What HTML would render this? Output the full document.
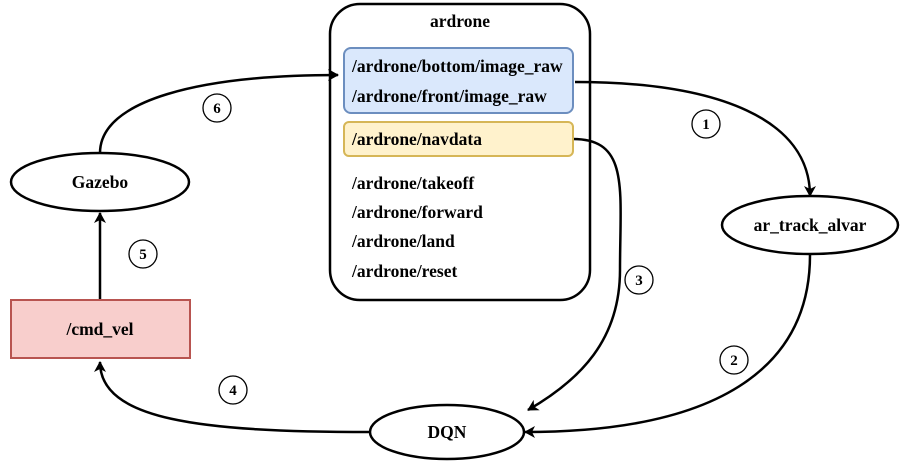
<!DOCTYPE html>
<html><head><style>
body{margin:0;background:#fff;}
svg{display:block;font-family:"Liberation Serif",serif;font-weight:bold;}
</style></head><body>
<svg width="904" height="468" viewBox="0 0 904 468" xmlns="http://www.w3.org/2000/svg">
<defs><marker id="a" markerWidth="12" markerHeight="12" refX="10" refY="6" orient="auto" markerUnits="userSpaceOnUse"><path d="M0,0 L11,6 L0,12 L3,6 Z" fill="#000"/></marker></defs>
<g fill="none" stroke="#000" stroke-width="2.5">
<rect x="330" y="4" width="260" height="296" rx="30" stroke-width="2.5"/>
<path d="M100,153 C100,100 200,75 338,75" marker-end="url(#a)"/>
<path d="M575,82 C720,82 810,120 810,196" marker-end="url(#a)"/>
<path d="M573,139 C630,139 620,190 620,270 C620,340 580,380 528,410" marker-end="url(#a)"/>
<path d="M810,255 C810,360 730,432 525,432" marker-end="url(#a)"/>
<path d="M370,432 C200,432 100,420 100,362" marker-end="url(#a)"/>
<path d="M100,300 L100,213" marker-end="url(#a)"/>
</g>
<rect x="344" y="48" width="229" height="65" rx="7" fill="#dae8fc" stroke="#6c8ebf" stroke-width="2"/>
<rect x="344" y="122" width="229" height="34" rx="5" fill="#fff2cc" stroke="#d6b656" stroke-width="2"/>
<rect x="11" y="300" width="179" height="58" fill="#f8cecc" stroke="#b85450" stroke-width="2"/>
<g fill="#fff" stroke="#000" stroke-width="2.5">
<ellipse cx="100" cy="182" rx="89" ry="29"/>
<ellipse cx="810" cy="225" rx="88" ry="29"/>
<ellipse cx="447" cy="432" rx="77" ry="27"/>
</g>
<g fill="none" stroke="#000" stroke-width="1.3">
<circle cx="706" cy="124" r="14"/><circle cx="734" cy="360" r="14"/><circle cx="639" cy="280" r="14"/>
<circle cx="233" cy="390" r="14"/><circle cx="143" cy="254" r="14"/><circle cx="217" cy="108" r="14"/>
</g>
<g font-size="17.5" fill="#000">
<text x="460" y="27" text-anchor="middle">ardrone</text>
<text x="352" y="72">/ardrone/bottom/image_raw</text>
<text x="352" y="102">/ardrone/front/image_raw</text>
<text x="352" y="145">/ardrone/navdata</text>
<text x="352" y="189">/ardrone/takeoff</text>
<text x="352" y="218">/ardrone/forward</text>
<text x="352" y="247">/ardrone/land</text>
<text x="352" y="277">/ardrone/reset</text>
<text x="100" y="188" text-anchor="middle">Gazebo</text>
<text x="810" y="231" text-anchor="middle">ar_track_alvar</text>
<text x="447" y="438" text-anchor="middle">DQN</text>
<text x="100" y="335" text-anchor="middle">/cmd_vel</text>
</g>
<g font-size="15" text-anchor="middle" fill="#000">
<text x="706" y="129">1</text><text x="734" y="365">2</text><text x="639" y="285">3</text>
<text x="233" y="395">4</text><text x="143" y="259">5</text><text x="217" y="113">6</text>
</g>
</svg>
</body></html>
